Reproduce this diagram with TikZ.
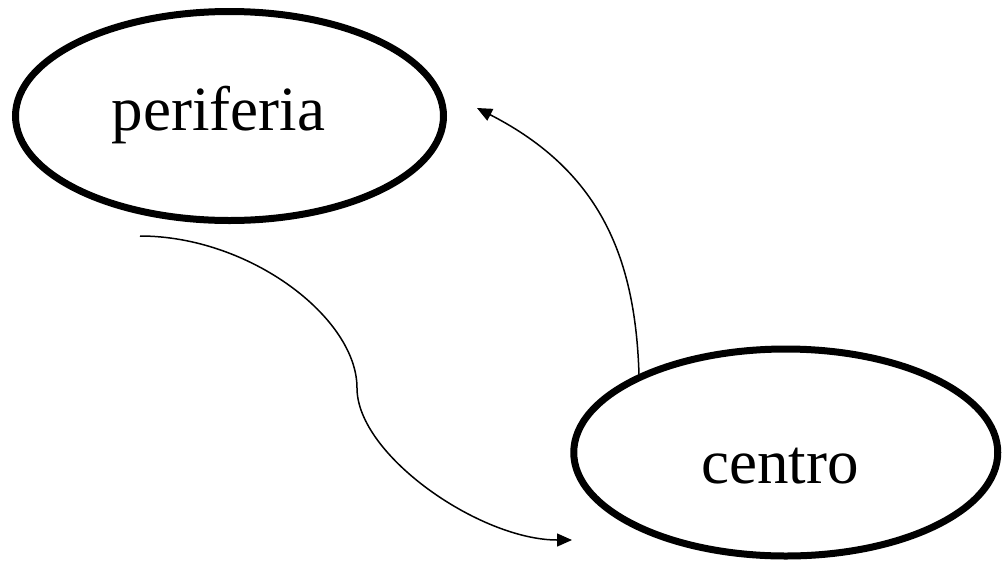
\documentclass[tikz,border=0pt]{standalone}
\usepackage{fontspec}
\setmainfont{Liberation Serif}
\usetikzlibrary{shapes.geometric,arrows.meta}
\begin{document}
\begin{tikzpicture}[x=1pt,y=-1pt,
  bubble/.style={ellipse, draw, line width=7pt, inner sep=0pt, outer sep=0pt},
  lbl/.style={font=\fontsize{63}{70}\selectfont, anchor=base, inner sep=0pt},
  link/.style={line width=1.5pt, -{Triangle[length=15pt,width=13pt]}}]
\useasboundingbox (0,0) rectangle (1003,563);
\clip (0,0) rectangle (1003,563);
\node[bubble, minimum width=428pt, minimum height=209pt] (periferia) at (229.5,116) {};
\node[bubble, minimum width=424pt, minimum height=207pt] (centro) at (785.75,452.5) {};
\node[lbl] (periferiaText) at (218.5,130) {periferia};
\node[lbl] (centroText) at (780,483) {centro};
\coordinate (pStart) at (140,236);
\coordinate (cTip) at (572,540);
\coordinate (pTip) at (477,108);
\draw[link] (pStart) .. controls (250,236) and (357,318) .. (357,388)
  .. controls (357,455) and (480,540) .. (cTip);
\draw[link] (centro.153) .. controls (636,260) and (602,172) .. (pTip);
\end{tikzpicture}
\end{document}
